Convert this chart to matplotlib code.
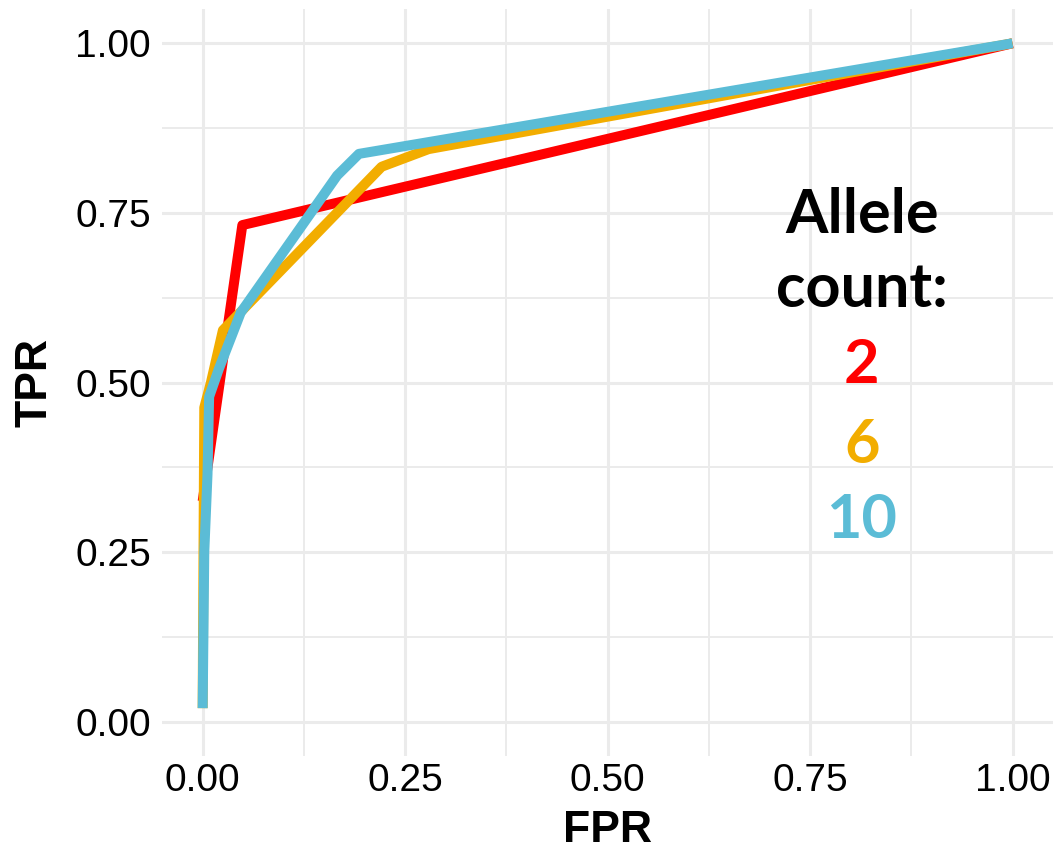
import numpy as np
import matplotlib
matplotlib.use("Agg")
import matplotlib.pyplot as plt

plt.rcParams['font.family'] = ['Liberation Sans', 'DejaVu Sans']

# ROC curves per allele count
fpr_2 = [0.0, 0.049, 1.0]
tpr_2 = [0.325, 0.732, 1.0]

fpr_6 = [0.0, 0.002, 0.010, 0.025, 0.221, 0.279, 1.0]
tpr_6 = [0.02, 0.463, 0.499, 0.577, 0.818, 0.844, 1.0]

fpr_10 = [0.0, 0.002, 0.006, 0.008, 0.020, 0.047, 0.166, 0.193, 1.0]
tpr_10 = [0.02, 0.25, 0.365, 0.479, 0.520, 0.603, 0.805, 0.837, 1.0]

labels = ["2", "6", "10"]
colors = ["#FF0000", "#F2AD00", "#5BBCD6"]
ticks = [0.0, 0.25, 0.5, 0.75, 1.0]
tick_labels = ["0.00", "0.25", "0.50", "0.75", "1.00"]

fig = plt.figure(figsize=(10.53, 8.5), dpi=100)
ax = fig.add_axes([0.154, 0.111, 0.846, 0.878])

curves = [(fpr_2, tpr_2), (fpr_6, tpr_6), (fpr_10, tpr_10)]
for (x, y), c in zip(curves, colors):
    ax.plot(x, y, color=c, lw=7.2, solid_capstyle='butt', solid_joinstyle='round', zorder=3)

ax.set_xlim(-0.05, 1.05)
ax.set_ylim(-0.05, 1.05)
ax.set_xticks(ticks)
ax.set_xticklabels(tick_labels)
ax.set_yticks(ticks)
ax.set_yticklabels(tick_labels)
ax.set_xticks(np.arange(0.125, 1.0, 0.25), minor=True)
ax.set_yticks(np.arange(0.125, 1.0, 0.25), minor=True)
ax.grid(which='major', color='#EBEBEB', lw=2.2)
ax.grid(which='minor', color='#EBEBEB', lw=1.4)
ax.set_axisbelow(True)
ax.tick_params(which='both', length=0, labelsize=28, colors='black')
ax.tick_params(axis='x', pad=5)
ax.tick_params(axis='y', pad=8)
for s in ax.spines.values():
    s.set_visible(False)

ax.set_xlabel("FPR", fontsize=32, fontweight='bold', labelpad=8)
ax.set_ylabel("TPR", fontsize=32, fontweight='bold', labelpad=14)

# legend drawn as text
lx = 0.814
for txt, yy in [("Allele", 0.720), ("count:", 0.611)]:
    ax.text(lx, yy, txt, fontsize=44, fontweight='bold', family=['Lato', 'DejaVu Sans'],
            ha='center', va='baseline')
for lab, c, yy in zip(labels, colors, [0.499, 0.381, 0.271]):
    ax.text(lx, yy, lab, fontsize=44, fontweight='bold', color=c,
            family=['Lato', 'DejaVu Sans'], ha='center', va='baseline')

fig.savefig("out.png", dpi=100)
